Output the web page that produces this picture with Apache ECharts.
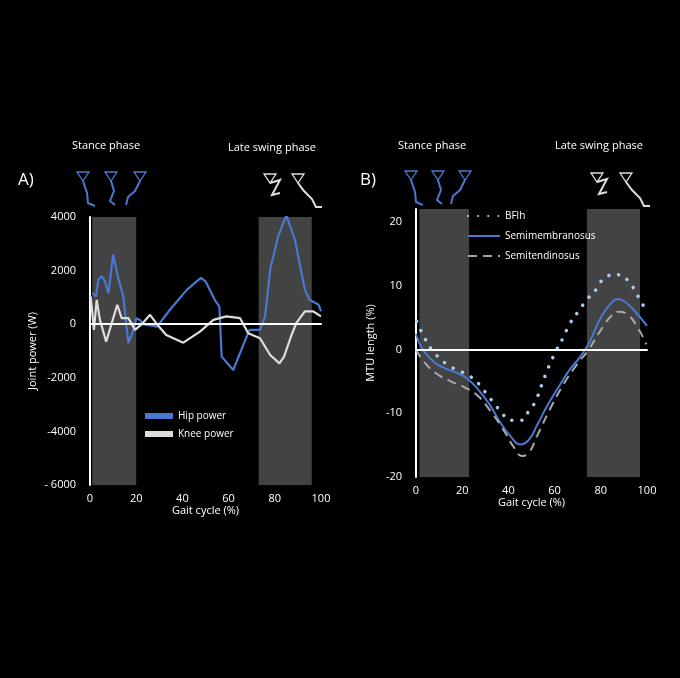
<!DOCTYPE html>
<html><head><meta charset="utf-8">
<script src="https://cdn.jsdelivr.net/npm/echarts@6/dist/echarts.min.js"></script>
<style>html,body{margin:0;background:#000}#c{width:680px;height:678px}</style>
</head><body><div id="c"></div>
<script>
const hipPower=[[1,1160],[2.6,1040],[3.6,1660],[5,1790],[6.5,1600],[8,1160],[10,2600],[12,1790],[14.4,1040],[16.6,-710],[18.8,-210],[20,225],[21.6,160],[23,0],[29,-90],[34.6,540],[42,1290],[48,1730],[50,1600],[54,910],[56,660],[57,-1210],[62,-1710],[69,-210],[73.6,-210],[75.8,290],[78,2040],[81.5,3290],[85,4060],[88.7,3160],[93,1290],[95,910],[99,725],[100,475]];
const kneePower=[[0.3,1040],[1.7,-210],[2.9,910],[4.3,160],[7,-650],[11.8,725],[13.7,225],[16.6,225],[19.5,-210],[22.4,0],[26,350],[29,0],[33,-400],[40.4,-690],[47.6,-275],[53.4,160],[59,290],[65,225],[68.5,-340],[73.6,-525],[78,-1150],[82,-1460],[84,-1210],[87,-460],[89.3,40],[93,475],[96.7,475],[100,290]];
const bflh=[[0.3,4.4],[3.3,2.1],[6.7,0],[10,-1.3],[14,-2.5],[19,-3.4],[23.7,-4.3],[27.7,-5.6],[30.6,-7],[33.7,-8.4],[36.9,-9.8],[40.6,-11.1],[45.5,-11.1],[48.8,-9.7],[51.6,-8.2],[55,-5],[56.7,-3.4],[58.7,-1.7],[60.7,-0.2],[63.8,1.9],[66.7,4.1],[70.6,6.1],[74.2,7.9],[78.3,9.5],[82.5,11.5],[88,11.7],[92.5,10.4],[96,8.4],[99.4,6.2]];
const semimem=[[0,2.4],[2.9,0],[7.9,-2],[12.2,-2.9],[17.9,-3.7],[22.2,-4.6],[26.5,-6.1],[31.6,-8.5],[36.6,-11.5],[40.9,-13.6],[45.2,-14.9],[48.8,-14.2],[52.4,-11.9],[56.7,-8.9],[61.7,-5.9],[66.7,-3.1],[71,-1.2],[74.6,0.8],[79.6,4.7],[83.9,7],[87.5,7.9],[91,7.3],[95.4,5.7],[100,3.7]];
const semiten=[[0,0],[3.6,-2],[9.3,-3.9],[15,-5],[20.8,-5.9],[26.5,-7.2],[32.3,-9.7],[38,-12.7],[42.3,-15.3],[45.9,-16.7],[48.8,-16.2],[52.4,-13.6],[58.1,-9.3],[63.8,-5.5],[69.6,-2.4],[74.6,-0.1],[79.6,2.8],[83.9,5],[87.5,5.9],[91.8,5.4],[96,3.4],[99.7,0.8]];
const shadeA=[[1,20],[73,96]];
const shadeB=[[1.5,23],[74,97]];

const W='#fff', F='Open Sans';
const txt={color:W,fontFamily:F,fontSize:11};
function xa(i){return {type:'value',gridIndex:i,min:0,max:100,interval:20,axisLine:{lineStyle:{color:W,width:2}},axisTick:{show:false},splitLine:{show:false},axisLabel:txt,name:'Gait cycle (%)',nameLocation:'middle',nameGap:18,nameTextStyle:txt};}
function ya(i,min,max,iv,name,showMax){return {type:'value',gridIndex:i,min:min,max:max,interval:iv,axisLine:{show:true,onZero:false,lineStyle:{color:W,width:2}},axisTick:{show:false},splitLine:{show:false},axisLabel:Object.assign({showMaxLabel:showMax,margin:14,formatter:v=>(v<=-6000?'- 6000':String(v))},txt),name:name,nameLocation:'middle',nameGap:i?40:52,nameTextStyle:txt};}
function area(s,top,bot){return {silent:true,itemStyle:{color:'rgba(90,90,90,0.75)'},data:s.map(r=>[{xAxis:r[0],yAxis:top},{xAxis:r[1],yAxis:bot}])};}
function zero(){return {silent:true,symbol:'none',label:{show:false},lineStyle:{color:W,width:2,type:'solid'},data:[{yAxis:0}]};}
const blue='#4a78d0';
function icon(x,y,pts,c){return {type:'group',children:[{type:'polygon',shape:{points:[[x-6,y],[x+6,y],[x,y+9]]},style:{fill:'none',stroke:c,lineWidth:1.3}},{type:'polyline',shape:{points:pts.map(p=>[x+p[0],y+9+p[1]])},style:{fill:'none',stroke:c,lineWidth:2}}]};}
const graphics=[
 {type:'text',left:72,top:140,style:{text:'Stance phase',fill:W,font:'11px Open Sans'}},
 {type:'text',left:228,top:142,style:{text:'Late swing phase',fill:W,font:'11px Open Sans'}},
 {type:'text',left:398,top:140,style:{text:'Stance phase',fill:W,font:'11px Open Sans'}},
 {type:'text',left:555,top:140,style:{text:'Late swing phase',fill:W,font:'11px Open Sans'}},
 {type:'text',left:18,top:172,style:{text:'A)',fill:W,font:'17px Open Sans'}},
 {type:'text',left:360,top:172,style:{text:'B)',fill:W,font:'17px Open Sans'}},
];
[[83,172],[111,172],[140,172],[411,171],[438,171],[465,171]].forEach((p,i)=>{
 const k=i%3;
 const pts=k===0?[[0,0],[4,12],[5,22],[12,25]]:k===1?[[0,0],[3,10],[-1,20],[4,24]]:[[0,0],[-5,10],[-12,16],[-14,24]];
 graphics.push(icon(p[0],p[1],pts,blue));
});
[[270,174,[[0,0],[10,-3],[2,12],[10,10]]],[298,174,[[0,0],[6,8],[14,16],[18,24],[24,24]]],[597,173,[[0,0],[10,-3],[2,12],[10,10]]],[626,173,[[0,0],[6,8],[14,16],[18,24],[24,24]]]].forEach(a=>graphics.push(icon(a[0],a[1],a[2],'#ddd')));

const opt={
 backgroundColor:'#000',animation:false,
 grid:[{left:90,top:217,width:231,height:268},{left:416,top:209,width:231,height:268}],
 xAxis:[xa(0),xa(1)],
 yAxis:[ya(0,-6000,4000,2000,'Joint power (W)',true),ya(1,-20,22,10,'MTU length (%)',false)],
 legend:[
  {left:140,top:406,orient:'vertical',itemGap:8,itemWidth:28,itemHeight:6,icon:'rect',textStyle:{color:W,fontFamily:F,fontSize:10},data:['Hip power','Knee power']},
  {left:462,top:206,orient:'vertical',itemGap:10,itemWidth:32,itemHeight:8,itemStyle:{opacity:0},textStyle:{color:W,fontFamily:F,fontSize:10},data:['BFlh','Semimembranosus','Semitendinosus']}
 ],
 graphic:graphics,
 series:[
  {name:'Hip power',type:'line',xAxisIndex:0,yAxisIndex:0,data:hipPower,symbol:'none',lineStyle:{color:blue,width:2.2},itemStyle:{color:blue},markArea:area(shadeA,4000,-6000),markLine:zero(),z:3},
  {name:'Knee power',type:'line',xAxisIndex:0,yAxisIndex:0,data:kneePower,symbol:'none',lineStyle:{color:'#ddd',width:2.2},itemStyle:{color:'#ddd'},z:3},
  {name:'BFlh',type:'line',xAxisIndex:1,yAxisIndex:1,data:bflh,smooth:true,symbol:'none',lineStyle:{color:'#a9cdf2',width:3.5,type:[0.1,10],cap:'round'},itemStyle:{color:'#a9cdf2'},markArea:area(shadeB,22,-20),markLine:zero(),z:3},
  {name:'Semimembranosus',type:'line',xAxisIndex:1,yAxisIndex:1,data:semimem,smooth:true,symbol:'none',lineStyle:{color:blue,width:2},itemStyle:{color:blue},z:3},
  {name:'Semitendinosus',type:'line',xAxisIndex:1,yAxisIndex:1,data:semiten,smooth:true,symbol:'none',lineStyle:{color:'#a8a8a8',width:2,type:[9,6]},itemStyle:{color:'#a8a8a8'},z:3}
 ]
};
echarts.init(document.getElementById('c')).setOption(opt);
</script></body></html>
